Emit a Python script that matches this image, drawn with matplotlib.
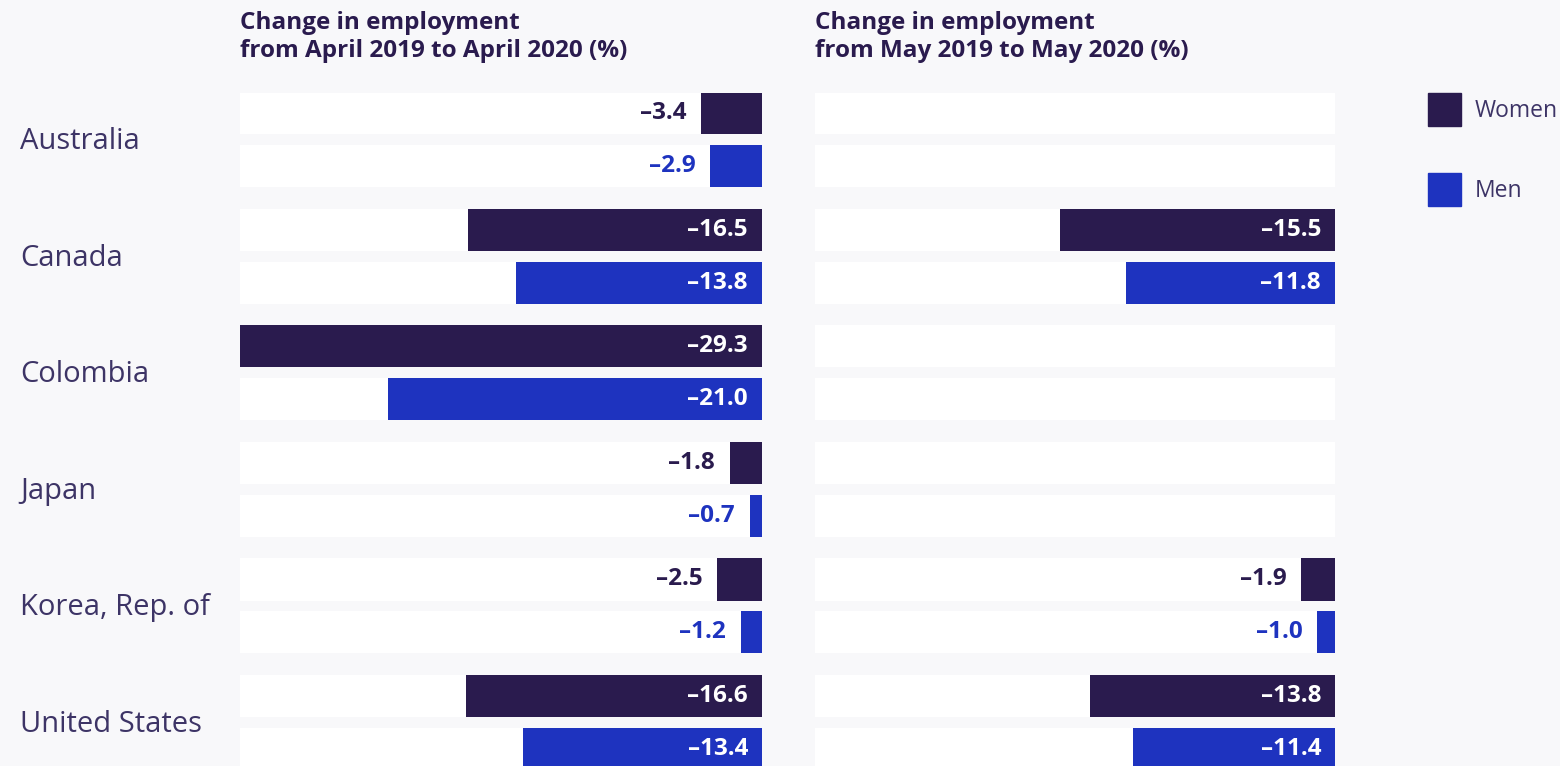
import numpy as np
import matplotlib
matplotlib.use("Agg")
import matplotlib.pyplot as plt
from matplotlib.patches import Rectangle

plt.rcParams['font.family'] = ['Open Sans', 'Noto Sans', 'DejaVu Sans']

countries = ["Australia", "Canada", "Colombia", "Japan", "Korea, Rep. of", "United States"]
# April 2019 -> April 2020
women_apr = [-3.4, -16.5, -29.3, -1.8, -2.5, -16.6]
men_apr = [-2.9, -13.8, -21.0, -0.7, -1.2, -13.4]
# May 2019 -> May 2020 (None = not available)
women_may = [None, -15.5, None, None, -1.9, -13.8]
men_may = [None, -11.8, None, None, -1.0, -11.4]

titles = ["Change in employment\nfrom April 2019 to April 2020 (%)",
          "Change in employment\nfrom May 2019 to May 2020 (%)"]
series_names = ["Women", "Men"]

BG = "#f8f8fa"
WOMEN = "#2a1b4e"
MEN = "#1e33bf"
TXT = "#3d3466"
colors = [WOMEN, MEN]

W, H = 1560, 766
fig = plt.figure(figsize=(W / 100, H / 100), dpi=100, facecolor=BG)

XMIN = -29.3
pitch = 116.5          # px between countries
sub = 53 / pitch       # offset of the men bar
bh = 42 / pitch        # bar height
top_px = 92.5
y_top = -bh / 2
y_bot = y_top + (H - top_px) / pitch
px = 29.3 / 522        # data units per pixel


def panel(x0_px, x1_px, women, men, title):
    ax = fig.add_axes([x0_px / W, 0, (x1_px - x0_px) / W, 1 - top_px / H])
    ax.set_xlim(XMIN, 0)
    ax.set_ylim(y_bot, y_top)
    ax.axis("off")
    for i in range(len(countries)):
        for j, vals in enumerate((women, men)):
            yc = i + j * sub
            ax.barh(yc, XMIN, height=bh, color="white", zorder=1)
            v = vals[i]
            if v is None:
                continue
            ax.barh(yc, v, height=bh, color=colors[j], zorder=2)
            lab = f"\u2013{abs(v):.1f}"
            if v < -6:
                ax.text(-14 * px, yc, lab, ha="right", va="center",
                        color="white", fontsize=17.5, fontweight="bold", zorder=3)
            else:
                ax.text(v - 15 * px, yc, lab, ha="right", va="center",
                        color=colors[j], fontsize=17.5, fontweight="bold", zorder=3)
    fig.text(x0_px / W, 1 - 11 / H, title, ha="left", va="top", color=WOMEN,
             fontsize=17.5, fontweight="bold", linespacing=1.2)
    return ax


axl = panel(240, 762, women_apr, men_apr, titles[0])
axr = panel(815, 1335, women_may, men_may, titles[1])

# country labels, centred on each pair of bars
for i, c in enumerate(countries):
    yc = i + sub / 2
    yd = axl.transData.transform((0, yc))[1]
    yf = fig.transFigure.inverted().transform((0, yd - 2))[1]
    fig.text(20 / W, yf, c, ha="left", va="center", color=TXT, fontsize=21)

# legend
for k, (name, col) in enumerate(zip(series_names, colors)):
    y0 = 93 + k * 80
    fig.patches.append(Rectangle((1428 / W, 1 - (y0 + 33) / H), 33 / W, 33 / H,
                                 transform=fig.transFigure, color=col))
    fig.text(1475 / W, 1 - (y0 + 18) / H, name, ha="left", va="center",
             color=TXT, fontsize=16.5)

fig.savefig("out.png", dpi=100, facecolor=BG)
